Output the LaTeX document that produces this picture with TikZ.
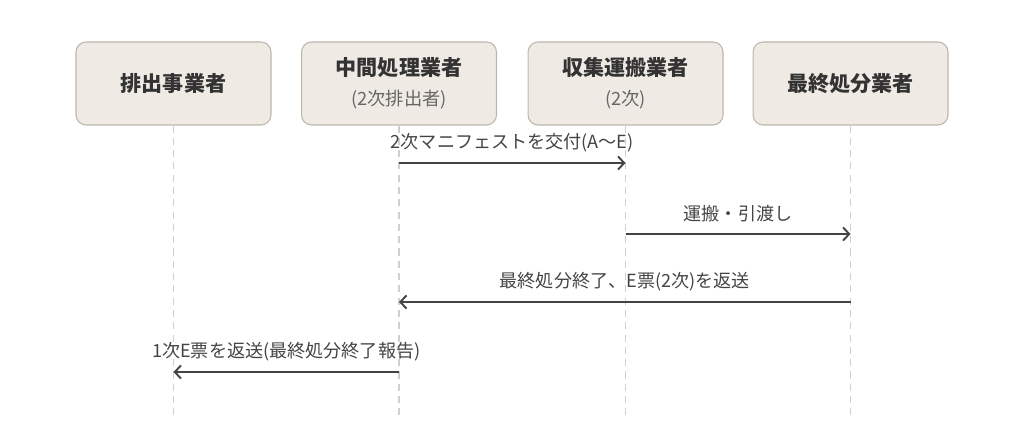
\documentclass[tikz,border=0pt]{standalone}
\usepackage{fontspec}
\setmainfont{Noto Sans CJK JP}
\usetikzlibrary{positioning,arrows.meta}
\definecolor{boxfill}{HTML}{EFEBE4}
\definecolor{boxline}{HTML}{BDB6AC}
\definecolor{ink}{HTML}{333333}
\definecolor{subink}{HTML}{666666}
\definecolor{lifegray}{HTML}{CFCFCF}
\definecolor{arrowink}{HTML}{444444}
\tikzset{
  actor/.style={draw=boxline, fill=boxfill, rounded corners=0.2cm, line width=0.6pt,
    minimum width=3.9cm, minimum height=1.66cm, align=center, text=ink,
    font=\fontsize{12}{17}\selectfont\bfseries},
  lifeline/.style={draw=lifegray, line width=0.6pt, dash pattern=on 4pt off 3pt},
  msg/.style={draw=arrowink, line width=1.1pt, -{Straight Barb[length=3.5pt,width=7.5pt]}},
  lbl/.style={midway, yshift=0.4cm, text=arrowink, font=\fontsize{10.3}{12}\selectfont}
}
\newcommand{\subline}[1]{{\fontsize{10.4}{13}\selectfont\mdseries\color{subink}#1}}
\begin{document}
\begin{tikzpicture}[x=0.02cm, y=-0.02cm]
  \useasboundingbox (0,0) rectangle (1024,448);
  \node[actor] (gen) at (173.5,83.5) {排出事業者};
  \node[actor, right=0.59cm of gen] (mid) {中間処理業者\\\subline{(2次排出者)}};
  \node[actor, right=0.61cm of mid] (col) {収集運搬業者\\\subline{(2次)}};
  \node[actor, right=0.58cm of col] (fin) {最終処分業者};

  \foreach \n in {gen,mid,col,fin}
    \draw[lifeline] (\n.south) -- ++(0,295);

  \coordinate (row1) at (0,163);
  \coordinate (row2) at (0,234);
  \coordinate (row3) at (0,302);
  \coordinate (row4) at (0,372);

  \draw[msg] (mid |- row1) -- node[lbl] {2次マニフェストを交付(A〜E)} (col |- row1);
  \draw[msg] (col |- row2) -- node[lbl] {運搬・引渡し} (fin |- row2);
  \draw[msg] (fin |- row3) -- node[lbl] {最終処分終了、E票(2次)を返送} (mid |- row3);
  \draw[msg] (mid |- row4) -- node[lbl] {1次E票を返送(最終処分終了報告)} (gen |- row4);
\end{tikzpicture}
\end{document}
